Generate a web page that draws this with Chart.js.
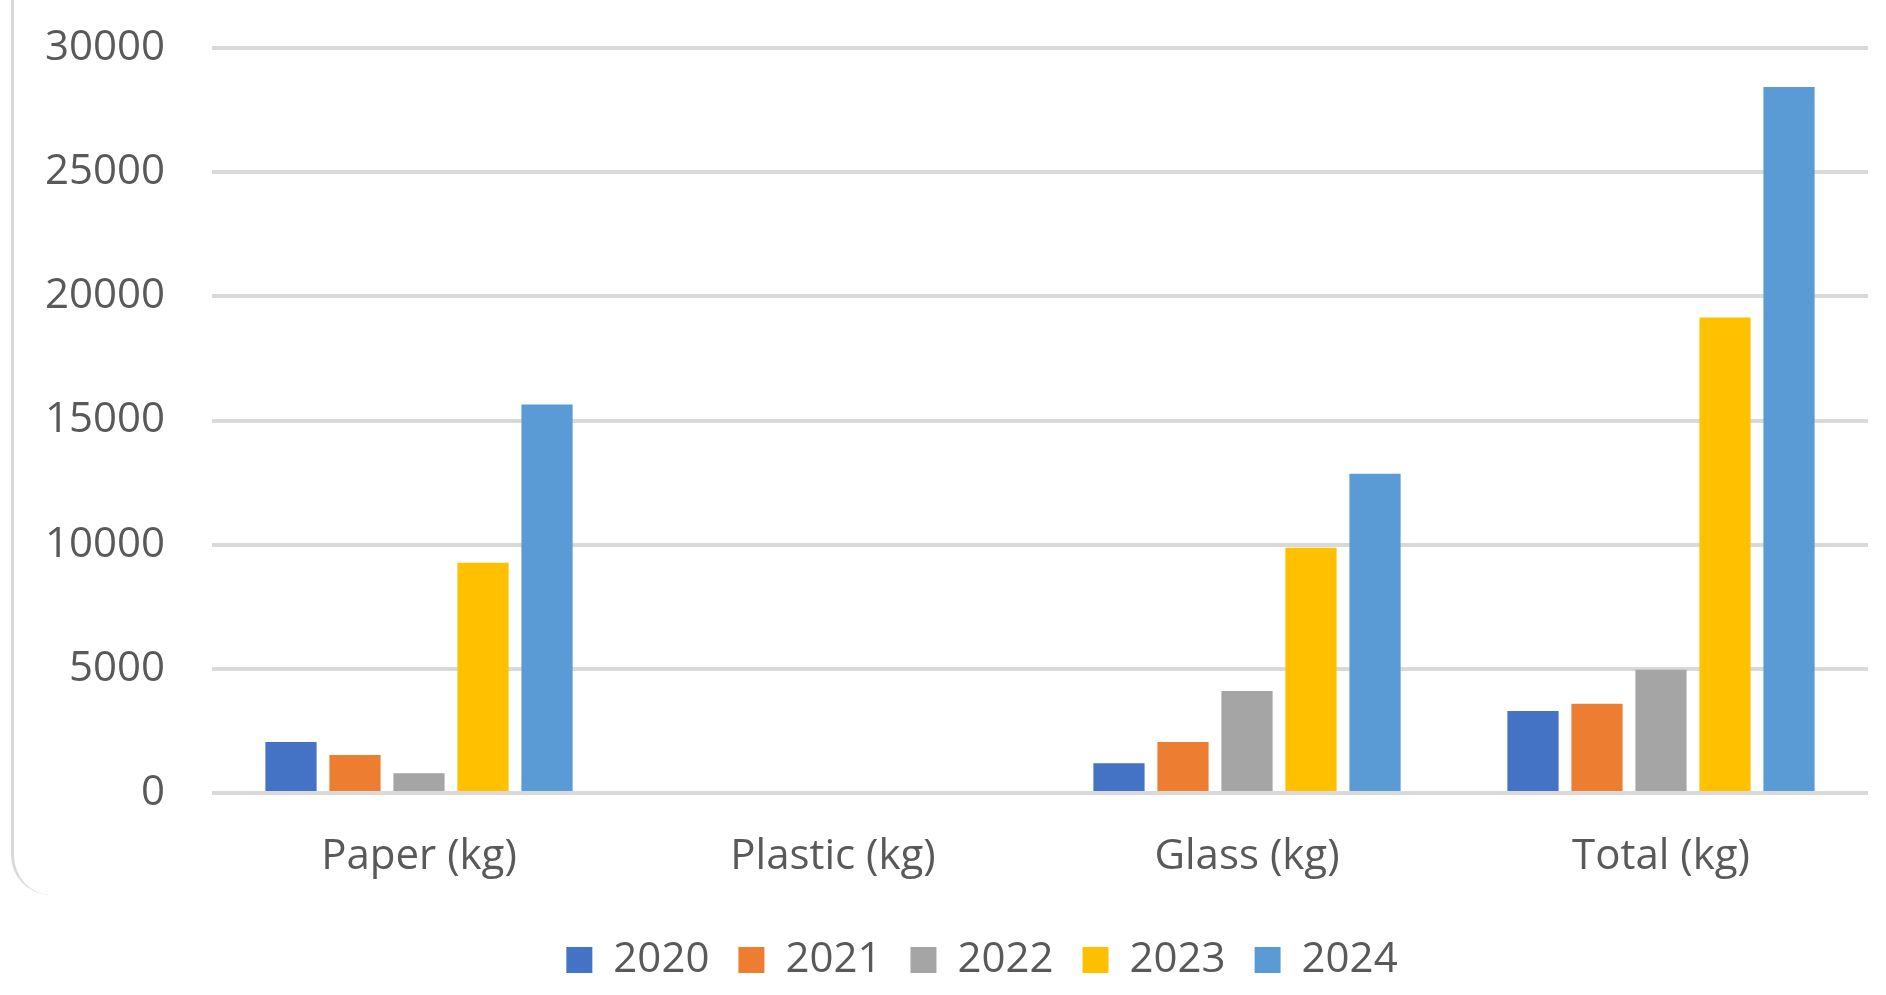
<!DOCTYPE html>
<html>
<head>
<meta charset="utf-8">
<script src="https://cdn.jsdelivr.net/npm/chart.js@4.4.1/dist/chart.umd.min.js"></script>
<style>
  html, body { margin: 0; padding: 0; background: #fff; overflow: hidden; }
  #wrap { position: relative; width: 1886px; height: 995px; }
  #frame {
    position: absolute; left: 11px; top: -40px; width: 1900px; height: 935px;
    border-left: 3px solid #d9d9d9; border-radius: 40px; box-sizing: border-box;
  }
  canvas { position: absolute; left: 0; top: 0; }
</style>
</head>
<body>
<div id="wrap">
  <div id="frame"></div>
  <canvas id="recyclingChart" width="1886" height="995"></canvas>
</div>
<script>
// categorias y datos (kg)
const categorias = ['Paper (kg)', 'Plastic (kg)', 'Glass (kg)', 'Total (kg)'];
const anios = ['2020', '2021', '2022', '2023', '2024'];
const datos2020 = [2050, 0, 1200, 3300];
const datos2021 = [1530, 0, 2050, 3590];
const datos2022 = [800, 0, 4110, 4960];
const datos2023 = [9270, 0, 9880, 19150];
const datos2024 = [15640, 0, 12860, 28430];
const ticksY = [0, 5000, 10000, 15000, 20000, 25000, 30000];

const colores = ['#4472C4', '#ED7D31', '#A5A5A5', '#FFC000', '#5B9BD5'];
const series = [datos2020, datos2021, datos2022, datos2023, datos2024];

Chart.defaults.font.family = "'Open Sans', 'Noto Sans', sans-serif";
Chart.defaults.font.size = 42;
Chart.defaults.color = '#595959';

// mover la leyenda un poco a la derecha, como en Excel
const moverLeyenda = {
    id: 'moverLeyenda',
    afterLayout(chart) {
        chart.legend.left += 48;
        chart.legend.right += 48;
    }
};

const ctx = document.getElementById('recyclingChart').getContext('2d');
new Chart(ctx, {
    type: 'bar',
    data: {
        labels: categorias,
        datasets: anios.map((anio, i) => ({
            label: anio,
            data: series[i],
            backgroundColor: colores[i],
            borderWidth: 0,
            barPercentage: 0.8,
            categoryPercentage: 0.773
        }))
    },
    options: {
        responsive: false,
        animation: false,
        devicePixelRatio: 1,
        layout: { padding: { left: 0, right: 18, top: 48, bottom: 4 } },
        plugins: {
            tooltip: { enabled: false },
            legend: {
                position: 'bottom',
                labels: {
                    boxWidth: 26,
                    boxHeight: 26,
                    padding: 29,
                    color: '#595959'
                }
            }
        },
        scales: {
            y: {
                min: 0,
                max: 30000,
                afterFit: scale => {
                    scale.width = 212;
                    scale.paddingTop = 0;
                    scale.paddingBottom = 0;
                },
                afterBuildTicks: scale => { scale.ticks = ticksY.map(v => ({ value: v })); },
                ticks: { padding: 47, color: '#595959', callback: v => String(v) },
                grid: { color: '#d9d9d9', lineWidth: 4, drawTicks: false },
                border: { display: false }
            },
            x: {
                afterFit: scale => {
                    scale.height = 117;
                    scale.paddingLeft = 0;
                    scale.paddingRight = 0;
                },
                ticks: { padding: 39, color: '#595959' },
                grid: { display: false, drawTicks: false },
                border: { display: false }
            }
        }
    },
    plugins: [moverLeyenda]
});
</script>
</body>
</html>
